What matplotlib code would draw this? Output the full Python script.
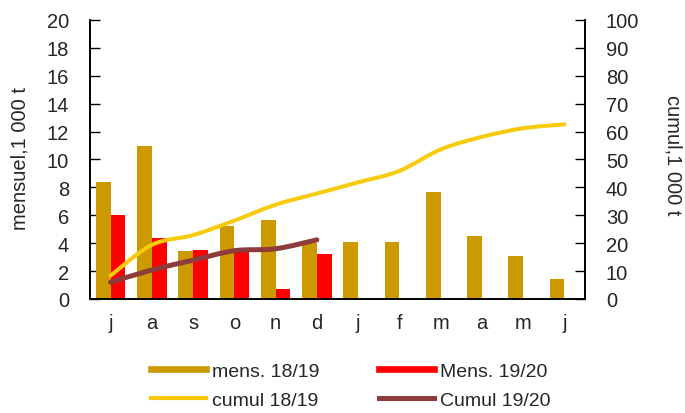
import numpy as np
import matplotlib.pyplot as plt
from matplotlib.path import Path
from matplotlib.patches import PathPatch
from matplotlib.lines import Line2D

plt.rcParams['font.family'] = ['Liberation Sans', 'DejaVu Sans']
plt.rcParams['text.color'] = '#262626'
plt.rcParams['xtick.labelcolor'] = '#262626'
plt.rcParams['ytick.labelcolor'] = '#262626'

months = ['j', 'a', 's', 'o', 'n', 'd', 'j', 'f', 'm', 'a', 'm', 'j']
mens_1819 = [8.4, 11.0, 3.45, 5.25, 5.65, 4.0, 4.05, 4.05, 7.7, 4.55, 3.1, 1.4]
mens_1920 = [6.0, 4.4, 3.5, 3.4, 0.7, 3.2]
cumul_1819 = [8.4, 19.4, 22.9, 28.1, 33.8, 37.8, 41.8, 45.9, 53.6, 58.1, 61.2, 62.6]
cumul_1920 = [6.0, 10.4, 13.9, 17.3, 18.0, 21.2]

c_gold = '#CC9900'
c_red = '#FF0000'
c_yellow = '#F7CB0A'
c_brown = '#8E3B3B'


def smooth_path(xs, ys):
    # Catmull-Rom style smoothing like Excel's smoothed line
    xs = np.asarray(xs, float)
    ys = np.asarray(ys, float)
    pts = np.column_stack([xs, ys])
    verts = [pts[0]]
    codes = [Path.MOVETO]
    n = len(pts)
    for i in range(n - 1):
        p0 = pts[i - 1] if i > 0 else pts[i]
        p1 = pts[i]
        p2 = pts[i + 1]
        p3 = pts[i + 2] if i + 2 < n else pts[i + 1]
        c1 = p1 + (p2 - p0) / 6.0
        c2 = p2 - (p3 - p1) / 6.0
        verts += [c1, c2, p2]
        codes += [Path.CURVE4] * 3
    return Path(verts, codes)


fig = plt.figure(figsize=(6.85, 4.14), dpi=100)
ax = fig.add_axes([0.1314, 0.2754, 0.7226, 0.6739])
ax2 = ax.twinx()

x = np.arange(len(months))
w = 0.36
ax.bar(x - w / 2, mens_1819, width=w, color=c_gold, zorder=2)
ax.bar(np.arange(len(mens_1920)) + w / 2, mens_1920, width=w, color=c_red, zorder=2)

ax.set_xlim(-0.5, len(months) - 0.5)
ax.set_ylim(0, 20)
ax.set_yticks(np.arange(0, 21, 2))
ax.set_xticks(x)
ax.set_xticklabels(months)
ax.tick_params(axis='x', length=0, labelsize=14.5, pad=10)
ax.tick_params(axis='y', length=7, width=1, labelsize=14.5, direction='in', pad=15)

ax2.set_ylim(0, 100)
ax2.set_yticks(np.arange(0, 101, 10))
ax2.tick_params(axis='y', length=7, width=1, labelsize=14.5, direction='in', pad=15)

fig.text(20 / 685, 1 - 159 / 414, 'mensuel,1 000 t', rotation=90,
         ha='center', va='center', fontsize=14.5)
fig.text(673 / 685, 1 - 155 / 414, 'cumul,1 000 t', rotation=-90,
         ha='center', va='center', fontsize=14.5)

ax2.add_patch(PathPatch(smooth_path(x, cumul_1819), fill=False,
                        edgecolor=c_yellow, lw=2.9, capstyle='round', zorder=3))
ax2.add_patch(PathPatch(smooth_path(np.arange(len(cumul_1920)), cumul_1920), fill=False,
                        edgecolor=c_brown, lw=3.6, capstyle='round', zorder=4))

for a in (ax, ax2):
    a.spines['top'].set_visible(False)
    for s in ('left', 'right', 'bottom'):
        a.spines[s].set_color('black')
        a.spines[s].set_linewidth(1.2)
ax.set_zorder(ax2.get_zorder() - 1)
ax2.patch.set_visible(False)
ax.patch.set_visible(True)

handles = [Line2D([], [], color=c_gold, lw=4.8),
           Line2D([], [], color=c_yellow, lw=3.0),
           Line2D([], [], color=c_red, lw=4.8),
           Line2D([], [], color=c_brown, lw=3.6)]
labels = ['mens. 18/19', 'cumul 18/19', 'Mens. 19/20', 'Cumul 19/20']
fig.legend(handles, labels, ncol=2, loc='center', bbox_to_anchor=(0.512, 0.066),
           frameon=False, fontsize=14, handlelength=2.8, handletextpad=0.3,
           columnspacing=3.1, labelspacing=0.6, borderpad=0)

fig.savefig('out.png', dpi=100)
